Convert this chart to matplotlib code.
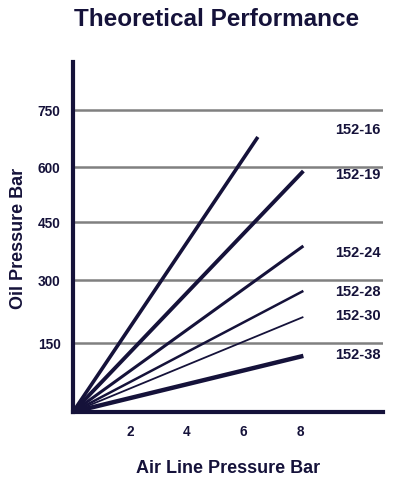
import matplotlib.pyplot as plt
import numpy as np

plt.rcParams['font.family'] = ['Liberation Sans', 'DejaVu Sans']

# models: end point of each performance line (air bar, oil bar)
models = ["152-16", "152-19", "152-24", "152-28", "152-30", "152-38"]
air_end = [6.5, 8.1, 8.1, 8.1, 8.1, 8.1]
oil_end = [679, 589, 388, 274, 212, 122]
label_oil = [700, 581, 372, 274, 217, 126]
widths = [2.6, 2.8, 2.2, 1.8, 1.3, 3.2]

y_ticks = [150, 300, 450, 600, 750]
x_ticks = [2, 4, 6, 8]

# the original chart's y spacing is uneven; follow it with a piecewise scale
_vals = np.array([-150, 0, 150, 300, 450, 600, 750, 1000])
_pos = np.array([-69, 0, 69, 132, 190, 245, 302, 397])


def fwd(v):
    return np.interp(v, _vals, _pos)


def inv(p):
    return np.interp(p, _pos, _vals)


navy = "#15123a"

fig = plt.figure(figsize=(4.03, 4.89), dpi=100)
ax = fig.add_axes([73 / 403, 76 / 489, 310 / 403, 350 / 489])
ax.set_yscale("function", functions=(fwd, inv))

for m, xe, ye, lw in zip(models, air_end, oil_end, widths):
    ax.plot([0, xe], [0, ye], color=navy, lw=lw, solid_capstyle="butt")

for m, yl in zip(models, label_oil):
    ax.text(9.2, yl, m, color=navy, fontsize=10.5, fontweight="bold",
            ha="left", va="center")

ax.set_xlim(0, 10.9)
ax.set_ylim(0, inv(350))
ax.set_xticks(x_ticks)
ax.set_yticks(y_ticks)
ax.set_xticklabels([str(t) for t in x_ticks], fontweight="bold", color=navy, fontsize=9.8)
ax.set_yticklabels([str(t) for t in y_ticks], fontweight="bold", color=navy, fontsize=9.8)
ax.tick_params(axis="y", length=0, pad=9)
ax.tick_params(axis="x", length=0, pad=9)
ax.yaxis.grid(True, color="#808080", lw=1.8)
ax.set_axisbelow(True)

for s in ["top", "right"]:
    ax.spines[s].set_visible(False)
for s in ["left", "bottom"]:
    ax.spines[s].set_color(navy)
    ax.spines[s].set_linewidth(3)

ax.set_xlabel("Air Line Pressure Bar", fontsize=13, fontweight="bold", color=navy, labelpad=15)
ax.set_ylabel("Oil Pressure Bar", fontsize=13, fontweight="bold", color=navy, labelpad=8)
fig.text(217 / 403, 1 - 20 / 489, "Theoretical Performance", ha="center", va="center",
         fontsize=17.5, fontweight="bold", color=navy)

fig.savefig("out.png", dpi=100)
